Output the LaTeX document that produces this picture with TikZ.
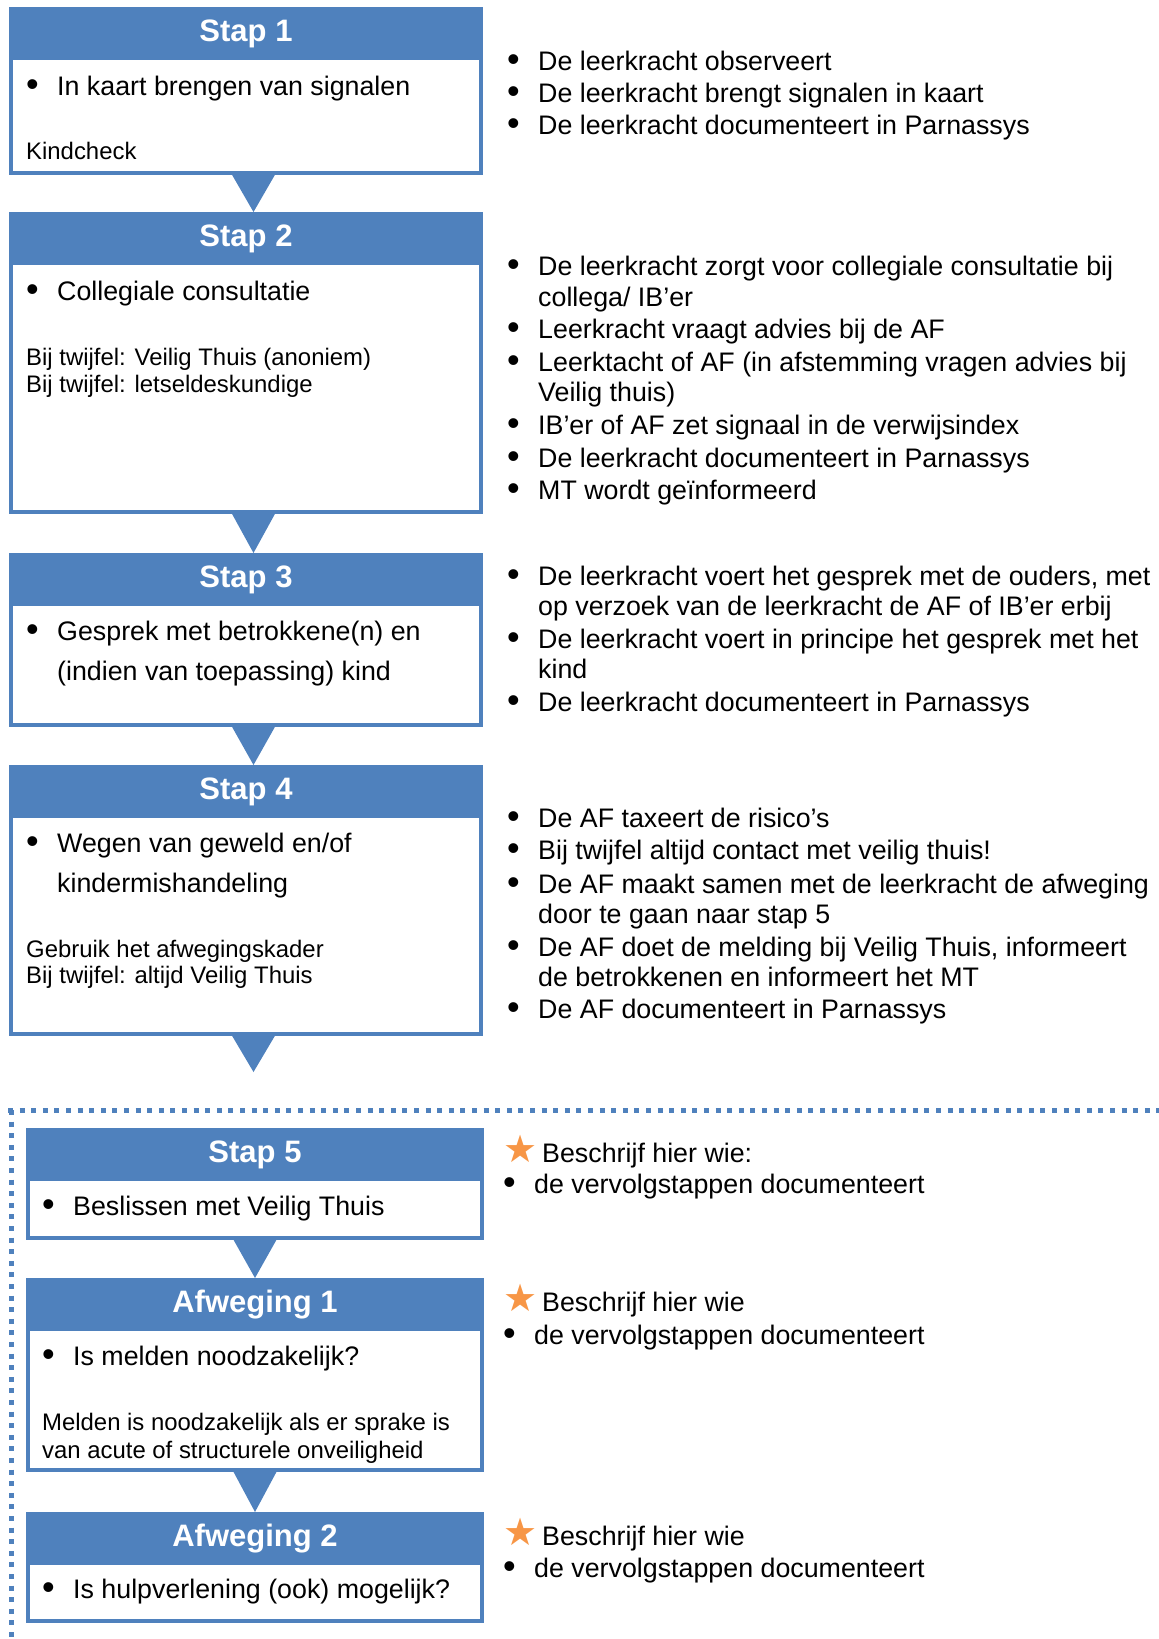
\documentclass[tikz,border=0pt]{standalone}
\usepackage{fontspec}
\setmainfont{Liberation Sans}
\newfontfamily\symboolfont{DejaVu Sans}
\definecolor{blauw}{HTML}{4F81BD}
\definecolor{oranje}{HTML}{F79646}
\newcommand{\gewoonfont}{\fontsize{26.8}{30}\selectfont}
\newcommand{\kleinfont}{\fontsize{23.9}{27}\selectfont}
\newcommand{\titelfont}{\fontsize{31}{37}\selectfont\bfseries}
\newcommand{\punt}{\makebox[31pt][l]{\smash{\raisebox{-1pt}{\fontsize{36}{36}\selectfont\textbullet}}}}
\newcommand{\ster}{\makebox[39pt][l]{\smash{\raisebox{0pt}{\symboolfont\color{oranje}\fontsize{38}{38}\selectfont ★}}}}

\begin{document}
\begin{tikzpicture}[x=1pt, y=-1pt,
    kop/.style={fill=blauw, text=white, font=\titelfont, minimum width=474pt, minimum height=53pt, anchor=north west, inner sep=0pt, outer sep=0pt},
    vak/.style={draw=blauw, line width=4pt, minimum width=470pt, anchor=north, inner sep=0pt, outer sep=0pt},
    regel/.style={anchor=base west, inner sep=0pt, font=\gewoonfont},
    klein/.style={anchor=base west, inner sep=0pt, font=\kleinfont},
    pijl/.style={fill=blauw},
    stippel/.style={draw=blauw, line width=5pt, dash pattern=on 5pt off 6.6pt}]
    \useasboundingbox (0,0) rectangle (1159,1639);

    % Dotted frame round steps 5 and further
    \draw[stippel] (8,1110) -- (1159,1110);
    \draw[stippel] (11,1110) -- (11,1639);

    % Stap 1
    \node[kop] (kop1) at (9,7) {Stap 1};
    \node[vak, minimum height=115pt] (vak1) at ([yshift=2pt]kop1.south) {};
    \node[regel] (tekst1a) at (26,95) {\punt In kaart brengen van signalen};
    \node[klein] (tekst1b) at (26,159) {Kindcheck};
    \node[regel] (uitleg1a) at (507,70) {\punt De leerkracht observeert};
    \node[regel] (uitleg1b) at (507,102) {\punt De leerkracht brengt signalen in kaart};
    \node[regel] (uitleg1c) at (507,134.5) {\punt De leerkracht documenteert in Parnassys};

    % Stap 2
    \node[kop] (kop2) at (9,212) {Stap 2};
    \node[vak, minimum height=249pt] (vak2) at ([yshift=2pt]kop2.south) {};
    \node[regel] (tekst2a) at (26,300) {\punt Collegiale consultatie};
    \node[klein] (tekst2b) at (26,365) {Bij twijfel: Veilig Thuis (anoniem)};
    \node[klein] (tekst2c) at (26,392) {Bij twijfel: letseldeskundige};
    \node[regel] (uitleg2a) at (507,275.5) {\punt De leerkracht zorgt voor collegiale consultatie bij};
    \node[regel] (uitleg2b) at (538,306) {collega/ IB’er};
    \node[regel] (uitleg2c) at (507,338) {\punt Leerkracht vraagt advies bij de AF};
    \node[regel] (uitleg2d) at (507,371.5) {\punt Leerktacht of AF (in afstemming vragen advies bij};
    \node[regel] (uitleg2e) at (538,401) {Veilig thuis)};
    \node[regel] (uitleg2f) at (507,434.5) {\punt IB’er of AF zet signaal in de verwijsindex};
    \node[regel] (uitleg2g) at (507,467) {\punt De leerkracht documenteert in Parnassys};
    \node[regel] (uitleg2h) at (507,499) {\punt MT wordt geïnformeerd};

    % Stap 3
    \node[kop] (kop3) at (9,553) {Stap 3};
    \node[vak, minimum height=121pt] (vak3) at ([yshift=2pt]kop3.south) {};
    \node[regel] (tekst3a) at (26,640) {\punt Gesprek met betrokkene(n) en};
    \node[regel] (tekst3b) at (57,680) {(indien van toepassing) kind};
    \node[regel] (uitleg3a) at (507,585) {\punt De leerkracht voert het gesprek met de ouders, met};
    \node[regel] (uitleg3b) at (538,615) {op verzoek van de leerkracht de AF of IB’er erbij};
    \node[regel] (uitleg3c) at (507,648.5) {\punt De leerkracht voert in principe het gesprek met het};
    \node[regel] (uitleg3d) at (538,678) {kind};
    \node[regel] (uitleg3e) at (507,711) {\punt De leerkracht documenteert in Parnassys};

    % Stap 4
    \node[kop] (kop4) at (9,765) {Stap 4};
    \node[vak, minimum height=218pt] (vak4) at ([yshift=2pt]kop4.south) {};
    \node[regel] (tekst4a) at (26,852) {\punt Wegen van geweld en/of};
    \node[regel] (tekst4b) at (57,892) {kindermishandeling};
    \node[klein] (tekst4c) at (26,957) {Gebruik het afwegingskader};
    \node[klein] (tekst4d) at (26,983) {Bij twijfel: altijd Veilig Thuis};
    \node[regel] (uitleg4a) at (507,827) {\punt De AF taxeert de risico’s};
    \node[regel] (uitleg4b) at (507,859.5) {\punt Bij twijfel altijd contact met veilig thuis!};
    \node[regel] (uitleg4c) at (507,893) {\punt De AF maakt samen met de leerkracht de afweging};
    \node[regel] (uitleg4d) at (538,923.5) {door te gaan naar stap 5};
    \node[regel] (uitleg4e) at (507,956) {\punt De AF doet de melding bij Veilig Thuis, informeert};
    \node[regel] (uitleg4f) at (538,986) {de betrokkenen en informeert het MT};
    \node[regel] (uitleg4g) at (507,1018.5) {\punt De AF documenteert in Parnassys};

    % Stap 5
    \node[kop, minimum width=458pt] (kop5) at (26,1128) {Stap 5};
    \node[vak, minimum width=454pt, minimum height=59pt] (vak5) at ([yshift=2pt]kop5.south) {};
    \node[regel] (tekst5a) at (42,1215) {\punt Beslissen met Veilig Thuis};
    \node[regel] (uitleg5a) at (503,1162) {\ster Beschrijf hier wie:};
    \node[regel] (uitleg5b) at (503,1193) {\punt de vervolgstappen documenteert};

    % Afweging 1
    \node[kop, minimum width=458pt] (kop6) at (26,1278) {Afweging 1};
    \node[vak, minimum width=454pt, minimum height=141pt] (vak6) at ([yshift=2pt]kop6.south) {};
    \node[regel] (tekst6a) at (42,1365) {\punt Is melden noodzakelijk?};
    \node[klein] (tekst6b) at (42,1430) {Melden is noodzakelijk als er sprake is};
    \node[klein] (tekst6c) at (42,1458) {van acute of structurele onveiligheid};
    \node[regel] (uitleg6a) at (503,1311) {\ster Beschrijf hier wie};
    \node[regel] (uitleg6b) at (503,1344.5) {\punt de vervolgstappen documenteert};

    % Afweging 2
    \node[kop, minimum width=458pt] (kop7) at (26,1512) {Afweging 2};
    \node[vak, minimum width=454pt, minimum height=58pt] (vak7) at ([yshift=2pt]kop7.south) {};
    \node[regel] (tekst7a) at (42,1598) {\punt Is hulpverlening (ook) mogelijk?};
    \node[regel] (uitleg7a) at (503,1545) {\ster Beschrijf hier wie};
    \node[regel] (uitleg7b) at (503,1577.5) {\punt de vervolgstappen documenteert};

    % Arrows between the steps
    \fill[pijl] ([xshift=-15pt]vak1.south) -- ([xshift=30pt]vak1.south) -- ([xshift=7.5pt]kop2.north) -- cycle;
    \fill[pijl] ([xshift=-15pt]vak2.south) -- ([xshift=30pt]vak2.south) -- ([xshift=7.5pt]kop3.north) -- cycle;
    \fill[pijl] ([xshift=-15pt]vak3.south) -- ([xshift=30pt]vak3.south) -- ([xshift=7.5pt]kop4.north) -- cycle;
    \coordinate (pijlpunt4) at (253.5,1072);
    \fill[pijl] ([xshift=-15pt]vak4.south) -- ([xshift=30pt]vak4.south) -- (pijlpunt4) -- cycle;
    \fill[pijl] ([xshift=-22.5pt]vak5.south) -- ([xshift=22.5pt]vak5.south) -- (kop6.north) -- cycle;
    \fill[pijl] ([xshift=-22.5pt]vak6.south) -- ([xshift=22.5pt]vak6.south) -- (kop7.north) -- cycle;
\end{tikzpicture}
\end{document}
